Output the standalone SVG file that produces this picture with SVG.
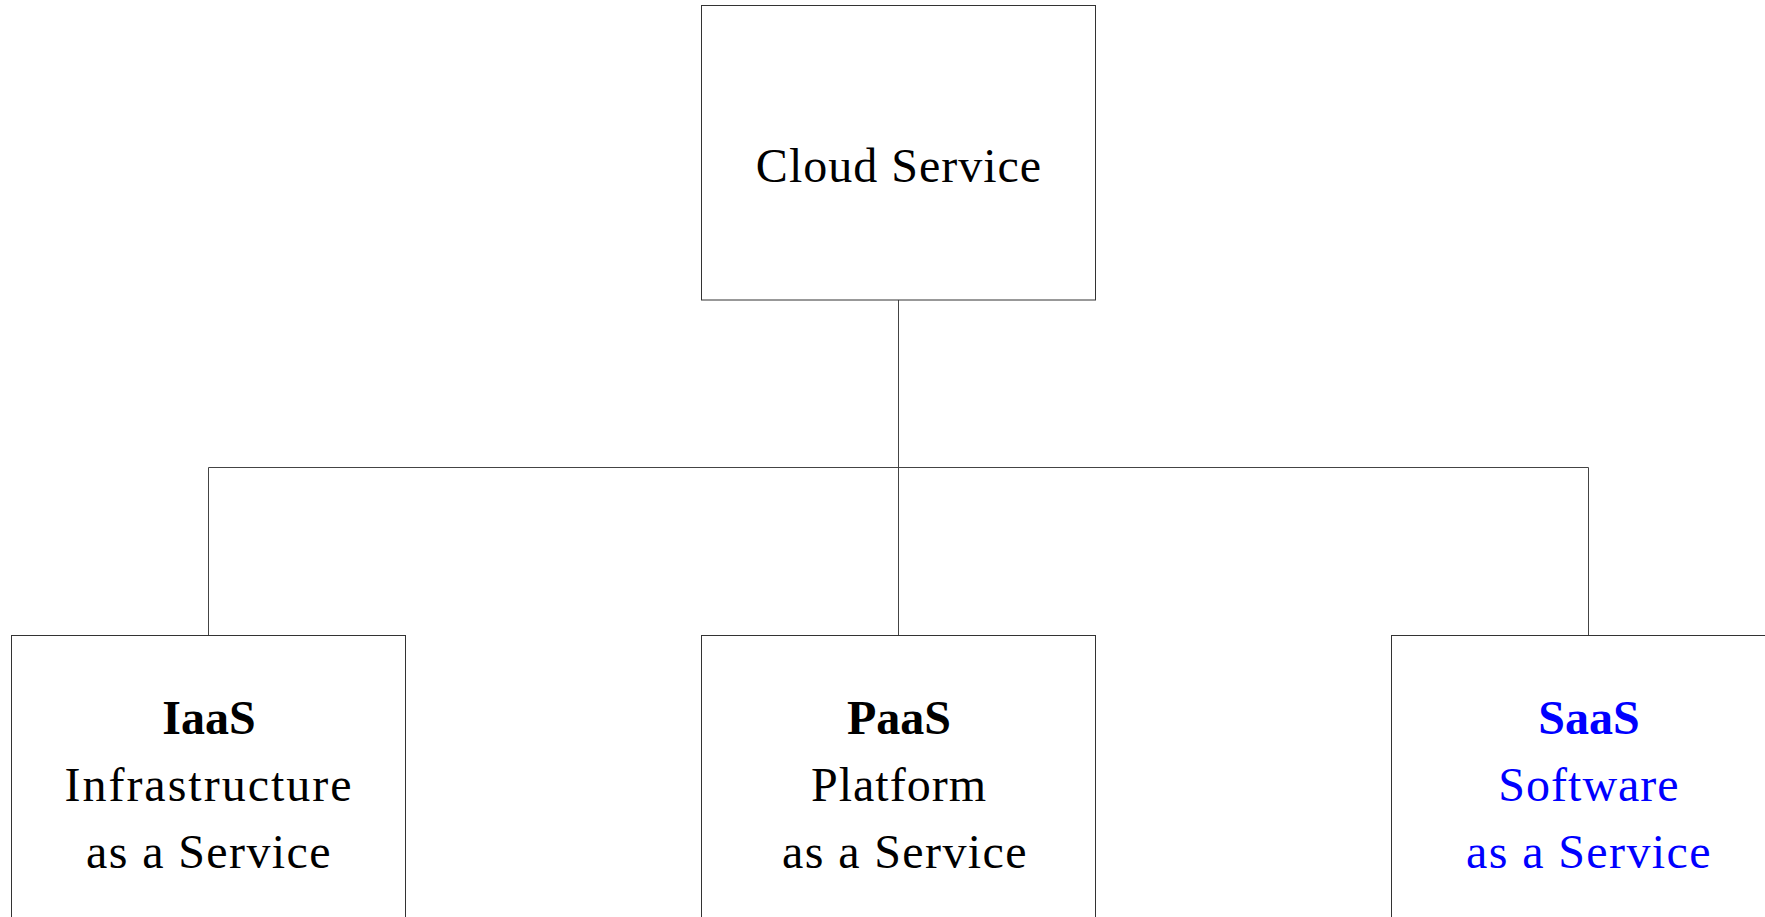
<svg xmlns="http://www.w3.org/2000/svg" width="1765" height="917" viewBox="0 0 1765 917">
<style>
.box{fill:#fff;stroke:#333;stroke-width:1}
.conn{fill:none;stroke:#444;stroke-width:1}
text{font-family:"Liberation Serif","DejaVu Serif",serif;font-size:48px;text-anchor:middle;fill:#000;letter-spacing:1px}
.b{font-weight:bold;letter-spacing:0}
.w{letter-spacing:2px}
.s{letter-spacing:1.4px}
.blue{fill:#0000ff}
</style>
<rect width="1765" height="917" fill="#fff"/>
<g id="connectors">
<path class="conn" d="M898.5 300 V635.5"/>
<path class="conn" d="M208.5 467.5 H1588.5"/>
<path class="conn" d="M208.5 467.5 V635.5"/>
<path class="conn" d="M1588.5 467.5 V635.5"/>
</g>
<g id="cloud">
<rect class="box" x="701.5" y="5.5" width="394" height="294.5"/>
<text x="899" y="182">Cloud Service</text>
</g>
<g id="iaas">
<rect class="box" x="11.5" y="635.5" width="394" height="400"/>
<text class="b" x="209" y="734">IaaS</text>
<text class="w" x="209" y="801">Infrastructure</text>
<text class="s" x="209" y="868">as a Service</text>
</g>
<g id="paas">
<rect class="box" x="701.5" y="635.5" width="394" height="400"/>
<text class="b" x="899" y="734">PaaS</text>
<text x="899" y="801">Platform</text>
<text class="s" x="905" y="868">as a Service</text>
</g>
<g id="saas">
<rect class="box" x="1391.5" y="635.5" width="394" height="400"/>
<text class="b blue" x="1589" y="734">SaaS</text>
<text class="blue" x="1589" y="801">Software</text>
<text class="s blue" x="1589" y="868">as a Service</text>
</g>
</svg>
